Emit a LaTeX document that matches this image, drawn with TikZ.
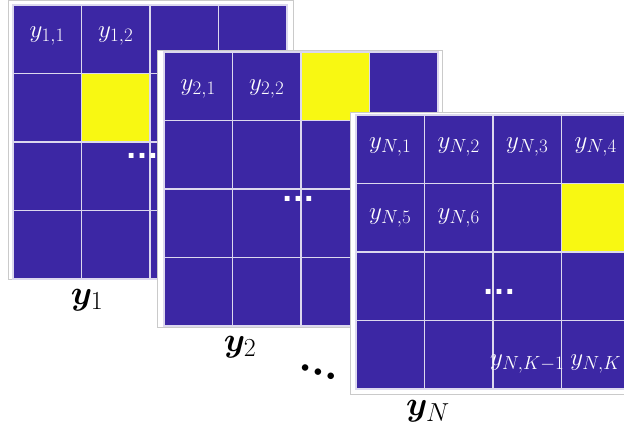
\RequirePackage{fix-cm}
\documentclass[tikz,border=0pt]{standalone}
\usepackage{amsmath,bm}
\usepackage{fontspec}
\usetikzlibrary{calc}
\DeclareMathSizes{25}{25}{19}{14}
\DeclareMathSizes{34}{34}{26}{20}
\newfontfamily\dotsans{Liberation Sans}
\newfontfamily\dotserif{Liberation Serif}
\definecolor{cellblue}{HTML}{3C27A4}
\definecolor{hilite}{HTML}{F8F812}
\definecolor{gridline}{HTML}{DCD8EE}
\definecolor{framegray}{HTML}{CACACA}
\tikzset{
 panel/.style={draw=framegray,fill=white,line width=.8pt},
 cell/.style={fill=cellblue,draw=gridline,line width=1.1pt},
 celllab/.style={text=white,font=\fontsize{25}{28}\selectfont,inner sep=0pt},
 matlab/.style={font=\fontsize{34}{38}\selectfont,inner sep=0pt},
 celldots/.style={text=white,font=\dotsans\bfseries\fontsize{34}{36}\selectfont,inner sep=0pt},
}

\begin{document}
\begin{tikzpicture}[x=1pt,y=-1pt]
\useasboundingbox (0,0) rectangle (624,429);
\clip (0,0) rectangle (624,429);
\foreach \p/\fx/\fy/\fw/\fh/\gx/\gy/\hc/\hr in {1/8/0.5/285/279/13/5/2/2,2/157/50/285/277/164/52/3/1,N/350/112/290/282/356/115/4/2} {
 \draw[panel] (\fx,\fy) rectangle ++(\fw,\fh);
 \coordinate (g\p) at (\gx,\gy);
 \foreach \c in {1,...,4} \foreach \r in {1,...,4}
  \draw[cell] ($(g\p)+(68.5*\c-68.5,68.5*\r-68.5)$) rectangle ++(68.5,68.5);
 \draw[cell,fill=hilite] ($(g\p)+(68.5*\hc-68.5,68.5*\hr-68.5)$) rectangle ++(68.5,68.5);
}
\foreach \p/\c/\r/\dy/\t in {1/1/1/-3/{$y_{1,1}$},1/2/1/-3/{$y_{1,2}$},
 2/1/1/3/{$y_{2,1}$},2/2/1/3/{$y_{2,2}$},
 N/1/1/-2/{$y_{N,1}$},N/2/1/-2/{$y_{N,2}$},N/3/1/-2/{$y_{N,3}$},N/4/1/-2/{$y_{N,4}$},
 N/1/2/0/{$y_{N,5}$},N/2/2/0/{$y_{N,6}$},
 N/3/4/9/{$y_{N,K-1}$},N/4/4/9/{$y_{N,K}$}}
 \node[celllab] (lab\p\c\r) at ($(g\p)+(68.5*\c-34.25,68.5*\r-34.25+\dy)$) {\t};
\foreach \p/\x/\y in {1/142/156,2/298/199,N/499/292}
 \node[celldots] (dots\p) at (\x,\y) {…};
\foreach \p/\x/\y in {1/87/300,2/240/347,N/428/411}
 \node[matlab] (name\p) at (\x,\y) {$\bm{y}_\p$};
\node[font=\dotserif\bfseries\fontsize{40}{42}\selectfont,inner sep=0pt,rotate=-18] (more) at (318,372) {…};
\end{tikzpicture}
\end{document}
